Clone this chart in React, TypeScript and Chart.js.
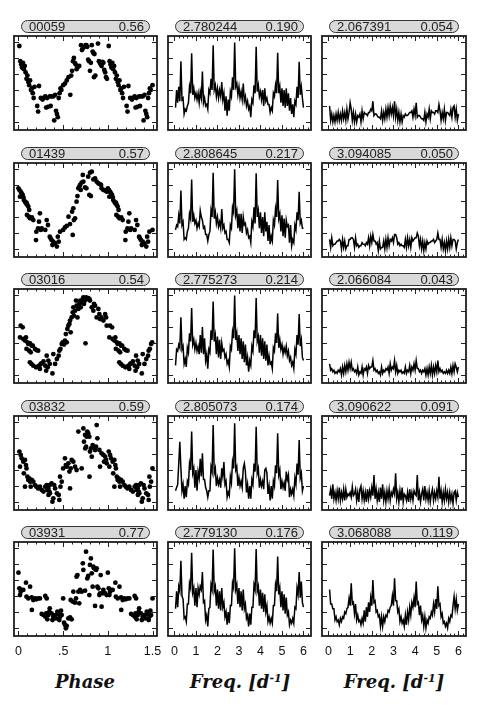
import React, { useEffect, useRef } from "react";
import { Chart, registerables } from "chart.js";

Chart.register(...registerables);

// ---------- labels ----------
const STAR_IDS = ["00059", "01439", "03016", "03832", "03931"];
const AMPLITUDES = ["0.56", "0.57", "0.54", "0.59", "0.77"];
const PEAK1_FREQ = ["2.780244", "2.808645", "2.775273", "2.805073", "2.779130"];
const PEAK1_POW = ["0.190", "0.217", "0.214", "0.174", "0.176"];
const PEAK2_FREQ = ["2.067391", "3.094085", "2.066084", "3.090622", "3.068088"];
const PEAK2_POW = ["0.054", "0.050", "0.043", "0.091", "0.119"];

// ---------- axes ----------
const PHASE_TICKS = [0, 0.5, 1, 1.5];
const PHASE_TICK_LABELS = ["0", ".5", "1", "1.5"];
const PHASE_MINOR = [0.1, 0.2, 0.3, 0.4, 0.6, 0.7, 0.8, 0.9, 1.1, 1.2, 1.3, 1.4];
const FREQ_TICKS = [0, 1, 2, 3, 4, 5, 6];
const FREQ_TICK_LABELS = ["0", "1", "2", "3", "4", "5", "6"];
const FREQ_MINOR = [0.2, 0.4, 0.6, 0.8, 1.2, 1.4, 1.6, 1.8, 2.2, 2.4, 2.6, 2.8, 3.2, 3.4, 3.6, 3.8, 4.2, 4.4, 4.6, 4.8, 5.2, 5.4, 5.6, 5.8, 6.2];
const Y_TICKS = [0.5, 1.5, 2.5, 3.5, 4.5, 5.5];

// ---------- light curves (phase, relative brightness) ----------
const LC1_PHASE = [0.01,0.02,0.03,0.04,0.05,0.06,0.07,0.08,0.09,0.10,0.11,0.12,0.13,0.14,0.15,0.16,0.17,0.18,0.21,0.22,0.23,0.25,0.27,0.28,0.30,0.31,0.32,0.33,0.35,0.36,0.37,0.39,0.40,0.41,0.42,0.43,0.44,0.45,0.46,0.47,0.48,0.50,0.52,0.54,0.56,0.58,0.59,0.60,0.61,0.62,0.63,0.64,0.65,0.66,0.68,0.70,0.71,0.72,0.74,0.75,0.76,0.77,0.78,0.79,0.80,0.81,0.82,0.83,0.84,0.85,0.845,0.86,0.89,0.90,0.91,0.92,0.93,0.94,0.95,0.96,0.97,0.98,0.99];
const LC1_MAG = [5.25,4.3,4.1,3.9,4.2,3.8,4.0,3.6,3.2,3.4,3.0,2.8,3.1,2.5,2.6,2.3,2.0,2.7,1.5,1.15,2.75,2.0,1.9,2.0,2.1,1.4,2.0,1.45,2.1,1.5,2.1,2.1,0.6,2.2,1.2,1.0,0.8,2.0,2.3,2.6,2.5,2.8,2.9,3.1,3.3,2.2,3.4,3.7,4.3,4.5,4.2,4.1,3.8,3.9,4.0,5.3,5.0,5.1,5.2,5.3,5.3,5.2,4.4,4.3,3.7,4.2,5.3,4.9,4.8,4.75,3.3,3.4,5.4,4.3,4.2,4.1,4.0,4.25,4.2,3.75,3.6,3.3,3.2];

const LC2_PHASE = [0.0,0.01,0.025,0.036,0.017,0.047,0.055,0.06,0.073,0.084,0.09,0.1,0.11,0.12,0.095,0.115,0.13,0.15,0.166,0.24,0.23,0.2,0.196,0.22,0.25,0.26,0.316,0.3,0.33,0.35,0.36,0.37,0.39,0.38,0.41,0.43,0.45,0.44,0.465,0.5,0.52,0.54,0.577,0.56,0.6,0.614,0.62,0.633,0.607,0.65,0.66,0.67,0.68,0.69,0.696,0.707,0.72,0.726,0.745,0.76,0.78,0.8,0.82,0.793,0.81,0.838,0.857,0.875,0.894,0.91,0.924,0.93,0.95,0.97,0.987];
const LC2_MAG = [4.29,4.19,4.08,3.98,3.77,3.88,3.73,3.56,3.46,3.35,3.4,3.25,3.15,2.94,2.63,2.52,2.42,2.48,2.31,2.73,2.21,1.58,1.06,1.79,1.69,1.79,2.31,1.69,2.0,1.27,1.17,1.06,0.96,0.75,0.85,0.65,0.96,1.27,1.58,1.69,1.85,1.94,2.06,2.52,2.83,3.04,2.31,2.42,1.38,3.46,3.81,4.29,4.4,4.5,4.19,4.65,5.13,4.71,4.35,4.29,5.02,5.27,5.33,3.88,3.81,4.85,4.92,4.71,4.6,4.56,4.5,4.29,4.19,4.15,4.08];

const LC3_PHASE = [0.025,0.047,0.017,0.054,0.073,0.084,0.1,0.11,0.13,0.148,0.09,0.12,0.137,0.16,0.185,0.2,0.22,0.128,0.145,0.166,0.196,0.21,0.234,0.24,0.25,0.26,0.28,0.3,0.31,0.316,0.327,0.35,0.334,0.38,0.39,0.41,0.43,0.45,0.457,0.47,0.484,0.495,0.51,0.52,0.54,0.53,0.547,0.558,0.57,0.577,0.584,0.595,0.607,0.614,0.62,0.633,0.644,0.65,0.66,0.67,0.68,0.69,0.696,0.707,0.72,0.726,0.733,0.745,0.756,0.77,0.78,0.793,0.8,0.75,0.82,0.838,0.845,0.857,0.875,0.894,0.905,0.913,0.93,0.95,0.97,0.98,0.987];
const LC3_MAG = [3.58,3.48,2.85,2.75,2.65,2.85,2.54,2.44,2.48,2.33,2.13,2.02,1.92,2.33,2.13,2.06,2.02,1.29,1.19,1.08,0.98,1.02,1.08,0.88,1.19,1.23,1.35,1.08,0.77,1.71,0.98,1.19,1.4,0.6,1.81,1.19,1.5,1.71,2.02,2.13,2.44,2.54,2.4,2.65,2.54,3.06,3.38,3.58,3.69,3.9,3.17,4.1,4.42,4.73,4.21,4.52,5.15,4.83,4.1,4.63,4.94,5.15,4.73,5.04,5.25,5.35,4.94,5.15,5.35,5.25,5.31,5.25,5.15,2.48,4.73,4.52,4.94,4.83,4.1,4.63,4.31,4.0,4.1,3.9,4.31,4.1,3.58];

const LC4_PHASE = [0.01,0.025,0.036,0.017,0.054,0.073,0.084,0.09,0.06,0.1,0.11,0.12,0.13,0.073,0.137,0.148,0.166,0.185,0.2,0.22,0.24,0.26,0.28,0.3,0.316,0.323,0.334,0.345,0.35,0.37,0.336,0.352,0.38,0.39,0.4,0.41,0.43,0.45,0.457,0.465,0.484,0.47,0.5,0.52,0.53,0.54,0.558,0.57,0.577,0.584,0.595,0.614,0.633,0.65,0.67,0.707,0.726,0.745,0.733,0.748,0.756,0.763,0.77,0.78,0.793,0.795,0.8,0.81,0.82,0.83,0.838,0.857,0.868,0.875,0.883,0.905,0.913,0.93,0.95,0.957,0.97,0.98,0.987];
const LC4_MAG = [3.65,3.44,3.23,2.71,3.02,3.13,2.81,2.6,2.29,2.08,1.88,1.98,1.77,1.46,1.46,1.88,1.77,1.56,1.46,1.35,1.46,1.25,1.15,1.46,1.56,1.25,1.35,1.15,1.56,1.67,0.94,1.04,0.52,0.73,1.56,1.35,1.04,0.94,0.63,2.08,1.77,1.46,2.6,3.23,2.81,2.71,2.92,2.4,1.35,2.6,3.13,3.02,2.71,2.5,4.9,2.6,5.1,4.69,4.27,3.85,3.96,4.58,4.9,4.79,4.58,2.08,3.65,3.85,3.33,4.06,3.96,3.75,3.96,5.31,4.48,3.75,2.71,3.54,3.44,3.02,3.33,3.13,2.92];

const LC5_PHASE = [0.0,0.01,0.025,0.036,0.017,0.054,0.084,0.09,0.11,0.13,0.148,0.166,0.15,0.185,0.2,0.22,0.24,0.3,0.316,0.26,0.28,0.302,0.31,0.323,0.334,0.345,0.35,0.37,0.38,0.39,0.41,0.42,0.435,0.446,0.457,0.465,0.476,0.484,0.5,0.51,0.52,0.53,0.54,0.558,0.577,0.595,0.584,0.607,0.614,0.633,0.644,0.65,0.66,0.67,0.68,0.69,0.707,0.72,0.726,0.745,0.756,0.77,0.78,0.793,0.8,0.81,0.82,0.83,0.838,0.845,0.857,0.868,0.875,0.883,0.894,0.905,0.913,0.92,0.93,0.943,0.95,0.97,0.987];
const LC5_MAG = [3.96,2.98,2.77,2.88,2.56,2.88,3.33,2.46,2.35,3.08,2.42,2.25,1.63,2.35,2.29,2.35,2.35,2.5,2.35,1.38,1.31,1.21,1.42,1.04,1.31,1.52,1.73,1.42,1.0,1.21,1.31,1.1,1.52,1.38,1.0,1.21,1.58,1.31,2.35,0.83,0.69,0.48,0.63,1.1,1.17,1.04,2.25,2.15,2.77,2.08,2.35,3.71,3.81,2.77,2.04,2.88,2.77,4.54,4.13,2.83,5.27,3.6,3.75,2.56,4.44,4.85,3.92,3.08,4.33,4.23,1.88,4.13,4.23,3.08,2.98,2.56,2.67,3.81,1.83,2.67,2.88,2.67,2.56];

// ---------- periodograms (frequency grid 0.05 .. 6.00 step 0.05) ----------
const FREQ_GRID = Array.from({ length: 120 }, (_, i) => Math.round((i + 1) * 5) / 100);

const PG1_A = [
  1.4,2.5,1.7,2.7,1.8,4.3,1.9,2.0,1.0,1.3, 1.2,1.5,1.7,2.7,2.3,4.8,2.2,2.6,2.0,2.3,
  1.9,2.3,1.7,2.4,2.0,3.65,1.7,2.0,1.5,1.6, 1.3,2.5,2.3,3.2,2.5,5.3,2.5,2.8,2.1,2.6,
  2.0,2.5,2.1,3.0,1.9,2.3,1.2,2.1,0.9,1.9, 1.2,2.4,2.1,3.3,2.5,5.46,2.7,2.9,2.2,2.7,
  2.0,2.4,1.9,2.9,1.8,2.1,1.5,1.8,1.3,1.5, 0.8,1.9,1.7,2.8,2.3,5.2,2.4,2.8,2.1,2.4,
  1.9,2.5,1.5,2.6,1.8,2.0,1.6,1.6,1.1,1.4, 1.2,2.3,2.1,2.8,2.3,4.83,2.3,2.7,1.7,2.6,
  1.5,2.5,1.4,2.6,1.5,2.3,1.2,2.0,1.0,1.6, 0.8,1.8,1.6,2.7,2.0,4.27,2.2,2.7,2.0,1.4,
];
const PG1_B = [
  1.5,0.6,1.0,0.5,0.9,0.5,1.0,0.6,1.1,0.6, 1.0,0.6,1.2,0.7,1.1,0.6,1.3,0.7,1.1,1.7,
  1.3,0.6,1.1,0.5,1.0,0.5,0.9,0.8,1.0,0.5, 1.2,0.7,1.1,1.0,1.0,0.9,1.1,1.1,1.3,1.2,
  1.8,0.9,1.0,1.0,0.9,0.8,0.8,0.7,1.2,0.6, 1.1,0.7,1.3,0.8,1.4,0.9,1.5,1.0,1.4,0.9,
  1.8,0.8,1.3,0.6,1.1,0.5,1.0,0.5,0.9,0.8, 1.0,0.9,0.9,1.0,1.1,1.1,1.2,0.8,1.3,0.9,
  1.7,0.8,0.9,0.9,0.8,0.7,0.7,0.6,1.1,0.5, 1.0,0.8,1.3,0.7,1.2,1.1,1.1,1.0,1.2,1.2,
  1.1,1.6,1.2,0.6,1.1,0.7,1.3,0.6,1.1,1.1, 1.0,0.9,1.3,0.8,1.4,1.5,0.8,1.3,0.6,1.0,
];
const PG2_A = [
  1.7,2.0,1.9,2.6,2.1,4.15,2.0,2.2,1.1,1.2, 1.1,1.6,1.8,2.7,2.4,4.85,2.2,2.6,2.1,2.3,
  1.8,2.1,1.9,2.9,2.5,2.3,1.8,1.9,1.4,1.4, 1.0,1.4,1.6,2.9,2.5,5.27,2.4,2.8,2.1,2.5,
  1.9,2.2,1.8,3.0,1.8,2.0,1.5,1.6,1.1,1.1, 0.9,2.0,1.8,3.1,2.8,5.48,2.6,2.9,1.8,2.7,
  1.6,2.7,1.5,2.5,2.0,2.1,1.5,1.7,1.2,1.3, 0.9,2.2,1.9,3.1,2.1,5.23,2.5,2.9,1.8,2.8,
  1.5,2.5,1.3,2.8,1.6,2.2,1.0,2.0,0.8,1.3, 1.0,2.3,2.0,3.0,2.5,4.81,2.4,2.7,1.6,2.6,
  1.3,2.4,1.2,2.3,1.9,2.0,0.9,2.0,0.7,1.1, 0.9,2.0,1.7,2.8,2.3,4.08,2.1,2.3,1.8,1.8,
];
const PG2_B = [
  1.1,0.6,1.2,0.7,0.8,0.8,0.9,1.0,1.0,1.1, 1.0,0.5,1.1,0.6,1.0,0.5,0.7,0.7,1.1,1.1,
  1.2,1.2,1.1,0.6,1.2,0.7,0.8,0.6,0.7,0.7, 0.9,0.8,0.8,0.7,0.9,0.8,1.2,0.7,1.3,0.9,
  1.4,1.0,1.0,0.8,0.9,0.4,1.0,0.5,0.6,0.6, 1.0,0.5,1.1,0.6,1.2,0.7,1.1,1.0,1.2,0.9,
  1.4,1.4,1.2,0.8,0.9,0.7,0.8,0.7,0.7,0.6, 1.1,0.6,1.2,0.7,1.1,0.6,1.2,1.0,1.1,1.2,
  1.2,1.5,1.3,0.7,1.1,0.5,1.0,0.4,0.9,0.5, 1.0,0.8,0.9,0.9,1.0,1.0,1.1,0.9,1.0,1.1,
  1.5,1.1,1.1,0.6,1.1,0.5,0.9,0.4,1.0,0.5, 1.1,0.6,1.2,0.7,1.1,1.1,1.0,0.5,0.9,1.1,
];
const PG3_A = [
  1.1,2.1,2.0,2.4,2.2,4.1,2.1,2.3,1.2,1.5, 1.0,2.2,1.9,3.1,2.6,4.69,2.4,2.7,2.1,2.5,
  2.0,2.3,1.8,3.0,1.9,3.5,1.8,2.8,1.4,1.8, 0.9,2.1,1.9,3.3,2.7,5.1,2.6,3.0,1.8,2.9,
  1.6,2.7,1.5,2.5,2.0,2.1,1.6,1.8,1.2,1.4, 1.0,2.3,2.1,3.2,2.8,5.46,2.7,3.1,2.0,3.0,
  1.8,2.8,1.5,2.6,1.3,2.4,1.1,1.6,0.7,1.4, 1.1,2.3,2.0,3.3,2.8,5.31,2.6,2.9,1.9,3.0,
  1.7,2.8,1.5,2.6,1.4,2.4,1.1,1.7,1.2,1.3, 0.9,2.2,2.0,3.1,2.5,4.35,2.2,2.7,2.1,2.4,
  1.8,2.2,1.9,2.3,1.7,2.0,1.4,1.6,1.1,1.3, 0.9,2.1,1.8,3.0,2.4,4.31,2.3,2.7,1.6,1.4,
];
const PG3_B = [
  1.2,0.8,0.9,0.7,0.8,0.6,0.7,0.6,0.8,0.7, 0.9,0.5,1.0,0.6,1.1,0.7,1.2,0.8,1.3,0.9,
  1.3,0.8,0.9,0.7,0.8,0.6,1.0,0.5,0.7,0.6, 1.0,0.5,0.9,0.8,1.0,0.6,1.1,0.9,1.0,1.0,
  1.4,0.8,0.9,0.7,0.8,0.6,0.7,0.5,1.0,0.6, 0.8,0.7,0.9,0.8,1.0,0.6,1.2,0.8,1.0,0.9,
  1.4,0.7,1.1,0.6,0.8,0.7,0.8,0.6,0.7,0.6, 1.0,0.6,0.8,0.7,1.1,0.6,1.0,0.8,1.2,0.8,
  1.4,0.9,0.9,0.7,0.8,0.6,0.8,0.7,0.9,0.5, 0.9,0.5,1.0,0.6,1.1,0.5,1.0,0.6,1.1,0.7,
  1.4,0.7,0.9,0.7,0.8,0.6,0.7,0.6,0.8,0.6, 0.8,0.6,1.0,0.6,1.1,0.7,1.2,1.0,0.7,1.0,
];
const PG4_A = [
  1.2,1.4,1.6,2.9,4.27,2.6,1.2,1.6,0.7,1.5, 0.8,1.8,1.6,2.9,2.5,4.9,2.3,2.6,1.4,2.5,
  1.2,2.4,2.0,3.2,2.1,3.54,1.9,1.9,1.4,1.2, 0.8,1.2,1.2,2.7,2.4,5.31,2.3,2.6,1.5,2.0,
  1.6,1.9,1.4,2.6,2.1,3.0,1.6,1.8,0.8,1.1, 0.9,2.1,1.7,3.0,2.6,5.42,2.5,2.7,1.5,2.0,
  1.5,1.8,1.4,2.6,2.9,2.4,1.1,1.6,0.7,1.5, 0.7,1.9,1.6,2.9,2.4,5.2,2.3,2.6,1.4,1.9,
  1.5,1.8,1.3,2.5,2.6,2.3,1.0,1.5,0.6,1.5, 0.7,1.8,1.5,2.8,2.3,4.79,2.2,2.5,1.3,1.8,
  1.4,1.7,1.2,2.4,1.9,2.2,0.8,1.3,1.0,1.3, 0.9,2.0,1.6,2.9,2.2,4.38,2.0,2.3,1.2,1.5,
];
const PG4_B = [
  0.9,1.3,0.7,1.6,0.7,1.1,0.6,1.2,0.7,1.4, 0.6,1.1,0.7,1.3,0.6,1.3,0.8,1.0,0.9,1.1,
  0.8,1.46,0.9,1.0,1.3,0.6,1.1,0.5,1.3,1.5, 0.7,1.2,0.6,1.1,0.5,1.3,0.7,1.2,0.8,1.4,
  0.9,2.19,0.7,1.3,0.6,1.1,0.5,1.4,0.7,1.6, 0.6,1.1,0.5,1.2,0.7,1.3,0.6,1.1,0.9,1.3,
  1.0,2.29,0.7,1.1,0.5,1.2,0.6,1.4,0.5,1.0, 0.9,0.6,1.1,0.5,1.3,0.7,1.1,0.6,1.2,1.0,
  0.9,2.19,0.6,1.1,0.5,1.0,1.3,0.6,1.5,0.7, 1.1,0.6,1.2,0.5,1.0,1.3,0.6,1.1,0.7,1.2,
  0.8,2.08,0.7,1.2,0.5,1.1,0.6,1.3,0.7,1.1, 0.5,1.1,0.6,1.0,0.4,1.1,1.2,0.6,1.1,0.8,
];
const PG5_A = [
  1.7,2.8,1.8,3.1,2.8,4.7,2.5,2.3,1.1,1.2, 0.9,2.0,2.0,3.3,3.0,5.2,2.7,3.0,1.9,3.0,
  1.8,3.0,2.6,3.1,2.9,4.0,2.1,2.2,1.0,1.3, 0.6,1.7,1.8,3.2,2.9,5.4,2.8,3.1,1.9,2.9,
  1.7,2.8,1.6,3.0,1.8,2.1,1.2,1.5,0.7,1.5, 0.8,1.9,1.9,3.3,3.0,5.48,2.9,3.2,2.0,3.0,
  1.8,2.8,1.6,2.9,1.7,2.0,1.1,1.3,0.6,1.4, 0.7,1.8,1.8,3.2,2.9,5.44,2.8,3.1,1.9,2.9,
  1.7,2.7,1.5,2.6,1.5,1.9,0.9,1.2,0.8,1.1, 0.8,1.9,1.9,3.2,2.8,4.96,2.6,3.0,1.8,2.8,
  1.6,2.6,1.4,2.4,1.3,1.5,0.7,1.0,0.8,1.1, 0.8,1.8,1.7,3.0,2.6,4.0,2.4,3.4,2.1,1.8,
];
const PG5_B = [
  2.9,2.0,2.0,1.7,1.7,1.0,1.2,0.9,1.0,0.7, 1.1,0.9,1.2,1.1,1.5,1.4,1.7,1.8,2.35,1.9,
  3.3,2.0,2.1,1.4,2.0,1.0,1.3,0.9,1.0,0.7, 1.1,0.8,1.6,0.9,1.8,1.2,2.1,1.5,2.4,1.9,
  3.5,2.1,2.2,1.5,1.6,1.2,1.3,0.6,1.2,0.6, 1.2,0.9,1.3,1.2,1.6,1.5,1.8,1.9,2.5,1.9,
  3.6,2.2,2.2,1.5,1.7,0.9,1.2,0.8,1.0,0.6, 1.3,0.7,1.5,1.0,1.8,1.3,2.1,1.8,2.4,1.8,
  3.4,2.0,2.1,1.3,1.9,1.0,1.3,0.6,1.2,0.5, 1.0,0.8,1.2,1.1,1.5,1.3,2.0,1.5,2.3,1.7,
  3.1,1.9,2.0,1.2,1.4,0.8,0.9,0.6,0.8,0.5, 1.1,0.9,1.3,1.2,1.9,2.46,1.7,2.3,1.6,2.0,
];

const LIGHT_CURVES = [
  [LC1_PHASE, LC1_MAG],
  [LC2_PHASE, LC2_MAG],
  [LC3_PHASE, LC3_MAG],
  [LC4_PHASE, LC4_MAG],
  [LC5_PHASE, LC5_MAG],
];
const PERIODOGRAMS_1 = [PG1_A, PG2_A, PG3_A, PG4_A, PG5_A];
const PERIODOGRAMS_2 = [PG1_B, PG2_B, PG3_B, PG4_B, PG5_B];

// ---------- layout ----------
const COL_X = [14, 168, 322];
const COL_W = [143, 143, 144];
const ROW_Y = [36, 163, 289, 416, 542];
const PANEL_H = 94;
const PAD = 6;
const BOTTOM_EXTRA = 30;
const Y_MAX = 5.875;

type FrameCfg = {
  major: number[];
  minor: number[];
  labels: string[] | null;
};

function framePlugin(cfg: FrameCfg) {
  return {
    id: "frameTicks",
    afterDatasetsDraw(chart: any) {
      const { ctx, chartArea } = chart;
      const { left, top, right, bottom } = chartArea;
      const xs = chart.scales.x;
      const ys = chart.scales.y;
      ctx.save();
      ctx.strokeStyle = "#222";
      ctx.lineWidth = 1;
      ctx.beginPath();
      const xp = (v: number) => Math.round(xs.getPixelForValue(v)) + 0.5;
      const yp = (v: number) => Math.round(ys.getPixelForValue(v)) + 0.5;
      cfg.minor.forEach((v) => {
        const p = xp(v);
        ctx.moveTo(p, bottom);
        ctx.lineTo(p, bottom - 2.5);
        ctx.moveTo(p, top);
        ctx.lineTo(p, top + 2.5);
      });
      cfg.major.forEach((v) => {
        const p = xp(v);
        ctx.moveTo(p, bottom);
        ctx.lineTo(p, bottom - 5);
        ctx.moveTo(p, top);
        ctx.lineTo(p, top + 5);
      });
      Y_TICKS.forEach((v) => {
        const p = yp(v);
        ctx.moveTo(left, p);
        ctx.lineTo(left + 5, p);
        ctx.moveTo(right, p);
        ctx.lineTo(right - 5, p);
      });
      ctx.stroke();
      ctx.lineWidth = 1.8;
      ctx.strokeStyle = "#1e1e1e";
      ctx.strokeRect(left, top, right - left, bottom - top);
      if (cfg.labels) {
        ctx.fillStyle = "#111";
        ctx.font = '12.5px "Liberation Sans", Arial, Helvetica, sans-serif';
        ctx.textAlign = "center";
        ctx.textBaseline = "middle";
        cfg.major.forEach((v, i) => {
          ctx.fillText(cfg.labels![i], xs.getPixelForValue(v), bottom + 16);
        });
      }
      ctx.restore();
    },
  };
}

function wrapPhase(phase: number[], mag: number[]) {
  const pts = phase.map((p, i) => ({ x: p, y: mag[i] }));
  phase.forEach((p, i) => {
    if (p <= 0.5) pts.push({ x: p + 1, y: mag[i] });
  });
  return pts;
}

type PanelProps = { col: number; row: number; last: boolean };

function Panel({ col, row, last }: PanelProps) {
  const ref = useRef<HTMLCanvasElement | null>(null);
  const w = COL_W[col] + PAD * 2;
  const h = PANEL_H + PAD + (last ? BOTTOM_EXTRA : PAD);

  useEffect(() => {
    if (!ref.current) return;
    const isPhase = col === 0;
    const common = {
      responsive: false,
      animation: false as const,
      events: [] as any[],
      layout: { padding: { left: PAD, right: PAD, top: PAD, bottom: last ? BOTTOM_EXTRA : PAD } },
      plugins: { legend: { display: false }, tooltip: { enabled: false } },
      scales: {
        x: { type: "linear" as const, display: false, min: isPhase ? -0.05 : -0.3, max: isPhase ? 1.55 : 6.35 },
        y: { type: "linear" as const, display: false, min: 0, max: Y_MAX },
      },
    };
    const plugin = framePlugin({
      major: isPhase ? PHASE_TICKS : FREQ_TICKS,
      minor: isPhase ? PHASE_MINOR : FREQ_MINOR,
      labels: last ? (isPhase ? PHASE_TICK_LABELS : FREQ_TICK_LABELS) : null,
    });
    let chart: Chart;
    if (isPhase) {
      const [ph, mg] = LIGHT_CURVES[row];
      chart = new Chart(ref.current, {
        type: "scatter",
        data: {
          datasets: [
            {
              data: wrapPhase(ph, mg),
              pointRadius: 2.4,
              pointBackgroundColor: "#000",
              pointBorderWidth: 0,
              borderWidth: 0,
            },
          ],
        },
        options: common as any,
        plugins: [plugin],
      });
    } else {
      const vals = col === 1 ? PERIODOGRAMS_1[row] : PERIODOGRAMS_2[row];
      chart = new Chart(ref.current, {
        type: "line",
        data: {
          datasets: [
            {
              data: FREQ_GRID.map((f, i) => ({ x: f, y: vals[i] })),
              borderColor: "#000",
              borderWidth: 1.5,
              pointRadius: 0,
              tension: 0,
              fill: false,
            },
          ],
        },
        options: common as any,
        plugins: [plugin],
      });
    }
    return () => chart.destroy();
  }, [col, row, last]);

  return (
    <canvas
      ref={ref}
      width={w}
      height={h}
      style={{
        position: "absolute",
        left: COL_X[col] - PAD,
        top: ROW_Y[row] - PAD,
        width: w,
        height: h,
        display: "block",
      }}
    />
  );
}

function Pill({ col, row, left, right }: { col: number; row: number; left: string; right: string }) {
  return (
    <div
      style={{
        position: "absolute",
        left: COL_X[col] + 7,
        top: ROW_Y[row] - 16,
        width: COL_W[col] - 14,
        height: 13,
        boxSizing: "border-box",
        border: "1px solid #333",
        borderRadius: 7,
        background: "#d9d9d9",
        display: "flex",
        justifyContent: "space-between",
        alignItems: "center",
        padding: "0 5px 0 7px",
        font: '13px "Liberation Sans", Arial, Helvetica, sans-serif',
        lineHeight: "11px",
        color: "#222",
      }}
    >
      <span>{left}</span>
      <span>{right}</span>
    </div>
  );
}

const titleStyle = (cx: number): React.CSSProperties => ({
  position: "absolute",
  left: cx - 100,
  width: 200,
  top: 671,
  height: 24,
  lineHeight: "24px",
  textAlign: "center",
  font: 'italic bold 18px "DejaVu Serif", serif',
  color: "#111",
  whiteSpace: "nowrap",
});

export default function App() {
  const panels: JSX.Element[] = [];
  const pills: JSX.Element[] = [];
  for (let r = 0; r < 5; r++) {
    for (let c = 0; c < 3; c++) {
      panels.push(<Panel key={`p${r}${c}`} col={c} row={r} last={r === 4} />);
    }
    pills.push(<Pill key={`l${r}0`} col={0} row={r} left={STAR_IDS[r]} right={AMPLITUDES[r]} />);
    pills.push(<Pill key={`l${r}1`} col={1} row={r} left={PEAK1_FREQ[r]} right={PEAK1_POW[r]} />);
    pills.push(<Pill key={`l${r}2`} col={2} row={r} left={PEAK2_FREQ[r]} right={PEAK2_POW[r]} />);
  }
  return (
    <div style={{ position: "absolute", left: 0, top: 0, width: 491, height: 705, background: "#fff", overflow: "hidden" }}>
      {panels}
      {pills}
      <div style={titleStyle(85)}>Phase</div>
      <div style={titleStyle(240)}>
        Freq. [d<sup style={{ fontSize: 11, verticalAlign: "6px", lineHeight: 0 }}>-1</sup>]
      </div>
      <div style={titleStyle(394)}>
        Freq. [d<sup style={{ fontSize: 11, verticalAlign: "6px", lineHeight: 0 }}>-1</sup>]
      </div>
    </div>
  );
}
